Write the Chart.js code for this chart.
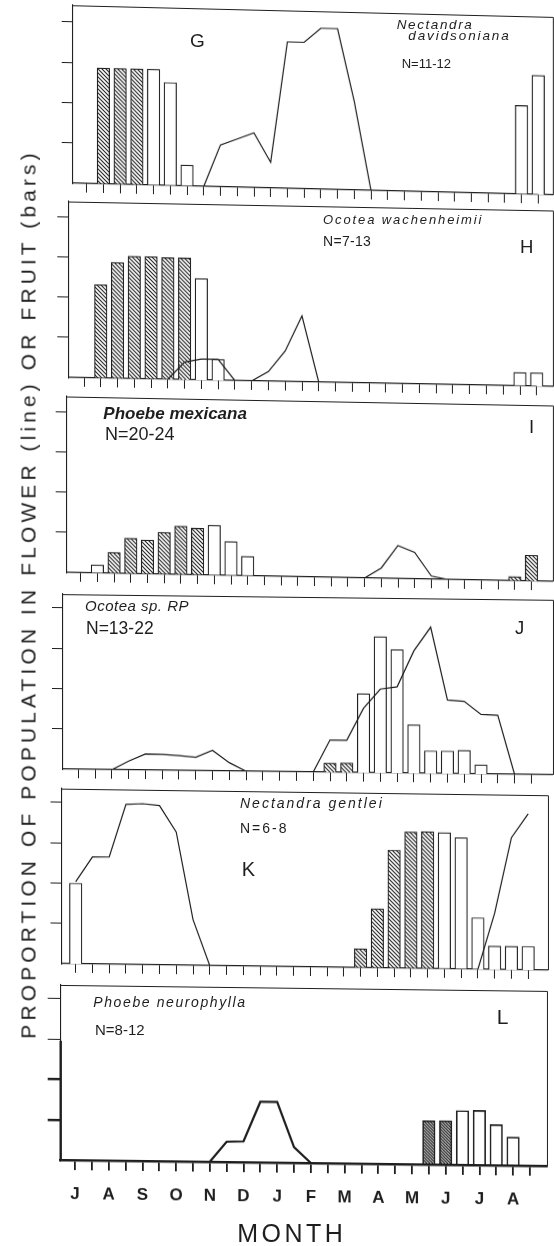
<!DOCTYPE html>
<html>
<head>
<meta charset="utf-8">
<script src="https://cdn.jsdelivr.net/npm/chart.js@4.4.1/dist/chart.umd.min.js"></script>
<style>
  html, body { margin: 0; padding: 0; background: #fff; }
  #page { position: relative; width: 554px; height: 1246px; overflow: hidden; background: #fff;
          font-family: "Liberation Sans", Arial, sans-serif; color: #1e1e1e; }
  #page canvas { position: absolute; left: 0; }
  .t { position: absolute; white-space: nowrap; line-height: 1; }
</style>
</head>
<body>
<div id="page"></div>
<script>
// Month initials, one per month, July through August of the following year
const monthLetters = ['J','A','S','O','N','D','J','F','M','A','M','J','J','A'];

// Half-month sampling points: index 0 = early July ... index 27 = late August
// Flowering (line) and fruiting (bars: hatched = green fruit, open = ripe fruit)

// G  Nectandra davidsoniana
const gFlower  = [0,0,0,0,0,0,0,0,0.26,0.30,0.34,0.16,0.91,0.91,1.0,1.0,0.55,0,0,0,0,0,0,0,0,0,0,0];
const gHatched = [null,0.72,0.72,0.72,null,null,null,null,null,null,null,null,null,null,null,null,null,null,null,null,null,null,null,null,null,null,null,null];
const gOpen    = [null,null,null,null,0.72,0.64,0.13,null,null,null,null,null,null,null,null,null,null,null,null,null,null,null,null,null,null,null,0.55,0.74];

// H  Ocotea wachenheimii
const hFlower  = [0,0,0,0,0,0,0.11,0.13,0.13,0,0,0.06,0.19,0.41,0,0,0,0,0,0,0,0,0,0,0,0,0,0];
const hHatched = [null,0.58,0.72,0.76,0.76,0.755,0.755,null,null,null,null,null,null,null,null,null,null,null,null,null,null,null,null,null,null,null,null,null];
const hOpen    = [null,null,null,null,null,null,null,0.63,0.13,null,null,null,null,null,null,null,null,null,null,null,null,null,null,null,null,null,0.083,0.083];

// I  Phoebe mexicana
const iFlower  = [0,0,0,0,0,0,0,0,0,0,0,0,0,0,0,0,0,0,0.064,0.205,0.165,0.02,0,0,0,0,0,0];
const iHatched = [null,null,0.13,0.22,0.21,0.26,0.30,0.29,null,null,null,null,null,null,null,null,null,null,null,null,null,null,null,null,null,null,0.026,0.16];
const iOpen    = [null,0.05,null,null,null,null,null,null,0.31,0.21,0.12,null,null,null,null,null,null,null,null,null,null,null,null,null,null,null,null,null];

// J  Ocotea sp. RP
const jFlower  = [0,0,0,0.054,0.10,0.099,0.092,0.083,0.127,0.052,0,0,0,0,0,0.2,0.2,0.40,0.52,0.535,0.76,0.908,0.457,0.45,0.37,0.366,0,0];
const jHatched = [null,null,null,null,null,null,null,null,null,null,null,null,null,null,null,0.057,0.058,null,null,null,null,null,null,null,null,null,null,null];
const jOpen    = [null,null,null,null,null,null,null,null,null,null,null,null,null,null,null,null,null,0.49,0.846,0.766,0.30,0.14,0.14,0.145,0.057,null,null,null];

// K  Nectandra gentlei
const kFlower  = [0.51,0.665,0.666,0.995,1.0,0.99,0.827,0.285,0,0,0,0,0,0,0,0,0,0,0,0,0,0,0,0,0,0.35,0.82,0.97];
const kHatched = [null,null,null,null,null,null,null,null,null,null,null,null,null,null,null,null,null,0.117,0.367,0.733,0.847,0.85,null,null,null,null,null,null];
const kOpen    = [0.50,null,null,null,null,null,null,null,null,null,null,null,null,null,null,null,null,null,null,null,null,null,0.846,0.816,0.32,0.145,0.145,0.146];

// L  Phoebe neurophylla
const lFlower  = [0,0,0,0,0,0,0,0,0,0.126,0.129,0.376,0.377,0.097,0,0,0,0,0,0,0,0,0,0,0,0,0,0];
const lHatched = [null,null,null,null,null,null,null,null,null,null,null,null,null,null,null,null,null,null,null,null,null,0.272,0.273,null,null,null,null,null];
const lOpen    = [null,null,null,null,null,null,null,null,null,null,null,null,null,null,null,null,null,null,null,null,null,null,null,0.337,0.339,0.252,0.176,null];

// Left-axis tick values (proportion)
const yTickValues = [0.25, 0.5, 0.75, 1.0];

const ink = '#1e1e1e';
const page = document.getElementById('page');
const halfMonthIdx = gFlower.map((_, i) => i);

function hatchPattern(pitch, lw) {
  const c = document.createElement('canvas');
  c.width = c.height = pitch;
  const x = c.getContext('2d');
  x.fillStyle = '#fff';
  x.fillRect(0, 0, pitch, pitch);
  x.strokeStyle = ink;
  x.lineWidth = lw;
  x.beginPath();
  x.moveTo(-1, -1); x.lineTo(pitch + 1, pitch + 1);
  x.moveTo(-1, pitch - 1); x.lineTo(1, pitch + 1);
  x.moveTo(pitch - 1, -1); x.lineTo(pitch + 1, 1);
  x.stroke();
  return x.createPattern(c, 'repeat');
}

const toBars = arr => arr.map((v, i) => (v == null ? null : { x: i, y: v })).filter(Boolean);
const toLine = arr => arr.map((v, i) => ({ x: i, y: v }));

// closes each panel with a top and right edge; optional heavy lower left axis
const boxPlugin = {
  id: 'panelBox',
  afterDatasetsDraw(chart, args, opts) {
    const { ctx, chartArea: a, scales } = chart;
    ctx.save();
    ctx.strokeStyle = ink;
    ctx.lineWidth = 1;
    ctx.beginPath();
    ctx.moveTo(a.left, Math.round(a.top) + 0.5);
    ctx.lineTo(Math.round(a.right) + 0.5, Math.round(a.top) + 0.5);
    ctx.lineTo(Math.round(a.right) + 0.5, a.bottom);
    ctx.stroke();
    if (opts.heavyFrom != null) {
      ctx.lineWidth = 2.4;
      ctx.beginPath();
      ctx.moveTo(a.left, scales.y.getPixelForValue(opts.heavyFrom));
      ctx.lineTo(a.left, a.bottom);
      ctx.stroke();
    }
    ctx.restore();
  }
};

function panel(cfg, flower, hatched, open) {
  const cv = document.createElement('canvas');
  cv.width = 554;
  cv.height = cfg.ch;
  cv.style.top = cfg.ct + 'px';
  // the printed panels lean slightly: baselines drop toward the right
  cv.style.transformOrigin = '310px ' + (cfg.base - cfg.ct) + 'px';
  cv.style.transform = 'skewY(' + (Math.atan(cfg.lean) * 180 / Math.PI) + 'deg)';
  page.appendChild(cv);

  const AXW = 14;
  const xMin = -(cfg.x0 - cfg.left) / cfg.step;
  const xMax = xMin + (cfg.right - cfg.left) / cfg.step;
  const yMax = (cfg.base - cfg.top) / cfg.unit;

  const xTicks = cfg.months ? {
    display: true, autoSkip: false, maxRotation: 0, minRotation: 0, padding: cfg.labelPad,
    color: ink, font: { family: 'Liberation Sans', size: 17, weight: 'bold' },
    callback: v => (v % 2 === 0 ? monthLetters[v / 2] : '')
  } : { display: false };

  new Chart(cv, {
    type: 'bar',
    data: {
      datasets: [
        { type: 'line', label: 'flower', data: toLine(flower), borderColor: ink, borderWidth: cfg.lw,
          pointRadius: 0, tension: 0, fill: false, order: 0 },
        { type: 'bar', label: 'fruit (green)', data: toBars(hatched), backgroundColor: hatchPattern(cfg.hp, cfg.hw),
          borderColor: ink, borderWidth: cfg.bw, barThickness: 12.5, grouped: false, order: 1 },
        { type: 'bar', label: 'fruit (ripe)', data: toBars(open), backgroundColor: '#fff',
          borderColor: ink, borderWidth: cfg.bw, barThickness: 12.5, grouped: false, order: 2 }
      ]
    },
    options: {
      responsive: false, animation: false, devicePixelRatio: 1,
      layout: { padding: {
        left: cfg.left - AXW,
        right: 554 - cfg.right,
        top: cfg.top - cfg.ct,
        bottom: cfg.ch - (cfg.base - cfg.ct) - cfg.axh
      } },
      plugins: { legend: { display: false }, tooltip: { enabled: false }, panelBox: { heavyFrom: cfg.heavyFrom } },
      scales: {
        x: {
          type: 'linear', min: xMin, max: xMax, bounds: 'data', offset: false,
          afterBuildTicks: s => { s.ticks = halfMonthIdx.map(v => ({ value: v })); },
          afterFit: s => { s.height = cfg.axh; },
          grid: { offset: false, drawOnChartArea: false, drawTicks: true, tickLength: cfg.xtl, color: ink, lineWidth: cfg.tw },
          border: { display: true, color: ink, width: cfg.axw },
          ticks: xTicks
        },
        y: {
          type: 'linear', min: 0, max: yMax, bounds: 'data',
          afterBuildTicks: s => { s.ticks = yTickValues.map(v => ({ value: v })); },
          afterFit: s => { s.width = AXW; },
          grid: { drawOnChartArea: false, drawTicks: true, tickLength: cfg.ytl, color: ink,
                  lineWidth: c => (cfg.heavyFrom != null && c.tick && c.tick.value < cfg.heavyFrom ? 2.4 : 1) },
          border: { display: true, color: ink, width: cfg.lbw },
          ticks: { display: false }
        }
      }
    },
    plugins: [boxPlugin]
  });
}

const thin = { unit: 161, lw: 1.2, bw: 1.2, tw: 1, axw: 1.3, lbw: 1.1, xtl: 9, ytl: 11, hp: 4, hw: 1.1, axh: 12, months: false };

panel({ ...thin, ct: 4,   ch: 199, left: 72.7, right: 553,   top: 10.5,  base: 189,  x0: 86.7, step: 16.73, lean: 0.0243 }, gFlower, gHatched, gOpen);
panel({ ...thin, ct: 200, ch: 196, left: 68.3, right: 553,   top: 206,   base: 382,  x0: 84,   step: 16.77, lean: 0.0186 }, hFlower, hHatched, hOpen);
panel({ ...thin, ct: 395, ch: 196, left: 66.7, right: 552.7, top: 401,   base: 577,  x0: 80.7, step: 16.7,  lean: 0.0185 }, iFlower, iHatched, iOpen);
panel({ ...thin, ct: 590, ch: 196, left: 63,   right: 552.7, top: 596.5, base: 772,  x0: 78.3, step: 16.78, lean: 0.0116 }, jFlower, jHatched, jOpen);
panel({ ...thin, ct: 785, ch: 196, left: 61.5, right: 547.7, top: 791.5, base: 967,  x0: 75.7, step: 16.76, lean: 0.0136 }, kFlower, kHatched, kOpen);
panel({ ...thin, ct: 981, ch: 265, left: 60.7, right: 547,   top: 987.5, base: 1163, x0: 75,   step: 16.85, lean: 0.0123,
        lw: 2.2, bw: 1.6, tw: 1.8, axw: 2.6, lbw: 1.1, xtl: 10, ytl: 13, hp: 3, hw: 1.3, axh: 45,
        months: true, labelPad: 14, heavyFrom: 0.74 }, lFlower, lHatched, lOpen);

// Panel annotations: text, left x, baseline y, size, style, letter spacing
const notes = [
  ['Nectandra',            396.7, 29.3,   13.5, 'i', 1.6],
  ['davidsoniana',         408.3, 40.7,   13.5, 'i', 1.9],
  ['N=11-12',              401.7, 68.3,   13,   '',  0],
  ['G',                    190,   46.7,   19,   '',  0],
  ['Ocotea wachenheimii',  323,   224.3,  13,   'i', 1.9],
  ['N=7-13',               323,   245.7,  14,   '',  0.3],
  ['H',                    520,   253.3,  18.5, '',  0],
  ['Phoebe mexicana',      103.3, 419.3,  17,   'bi', 0],
  ['N=20-24',              105,   440,    18,   '',  0],
  ['I',                    529,   433.3,  18.5, '',  0],
  ['Ocotea sp. RP',        85,    611,    15,   'i', 0.5],
  ['N=13-22',              86,    635,    17.5, '',  0],
  ['J',                    515,   635,    18.5, '',  0],
  ['Nectandra gentlei',    240,   808.3,  14,   'i', 2],
  ['N=6-8',                240,   832.7,  14,   '',  2],
  ['K',                    241.7, 876,    20,   '',  0],
  ['Phoebe neurophylla',   93.3,  1007.3, 14,   'i', 1.6],
  ['N=8-12',               95,    1035,   15,   '',  0],
  ['L',                    496.7, 1023.3, 21,   '',  0]
];
for (const [txt, x, bl, size, st, ls] of notes) {
  const d = document.createElement('div');
  d.className = 't';
  d.textContent = txt;
  d.style.left = x + 'px';
  d.style.top = (bl - 0.8465 * size) + 'px';
  d.style.fontSize = size + 'px';
  d.style.letterSpacing = ls + 'px';
  if (st.includes('i')) d.style.fontStyle = 'italic';
  if (st.includes('b')) d.style.fontWeight = 'bold';
  page.appendChild(d);
}

// axis titles
const xTitle = document.createElement('div');
xTitle.className = 't';
xTitle.textContent = 'MONTH';
Object.assign(xTitle.style, { left: '290px', top: (1241.7 - 0.8465 * 25) + 'px', fontSize: '25px',
  letterSpacing: '3.5px', transform: 'translateX(-50%)', paddingLeft: '3.5px' });
page.appendChild(xTitle);

const yTitle = document.createElement('div');
yTitle.className = 't';
yTitle.textContent = 'PROPORTION OF POPULATION IN FLOWER (line) OR FRUIT (bars)';
Object.assign(yTitle.style, { left: '28px', top: '596px', fontSize: '21px', letterSpacing: '4.1px',
  paddingLeft: '4.1px', transform: 'translate(-50%, -50%) rotate(-90deg)' });
page.appendChild(yTitle);
</script>
</body>
</html>
